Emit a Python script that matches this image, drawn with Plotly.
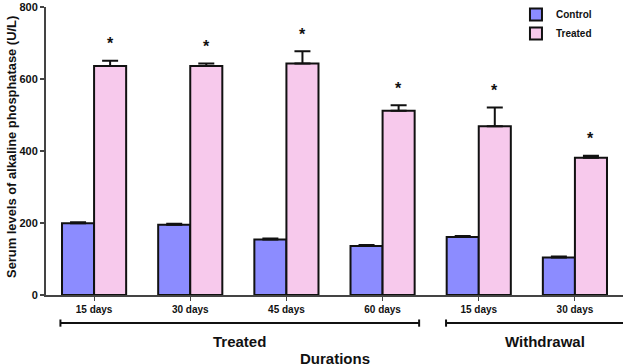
import plotly.graph_objects as go

categories = ["15 days", "30 days", "45 days", "60 days", "15 days ", "30 days "]
tick_labels = ["15 days", "30 days", "45 days", "60 days", "15 days", "30 days"]
control_vals = [199, 195, 154, 136, 161, 104]
control_err = [3, 3, 3, 3, 3, 3]
treated_vals = [636, 636, 643, 512, 469, 381]
treated_err = [15, 7, 34, 15, 52, 6]
group_names = ["Treated", "Withdrawal"]
group_spans = [(-0.35, 3.38), (3.66, 5.59)]
y_title = "Serum levels of alkaline phosphatase (U/L)"

FONT = "Liberation Sans"
fig = go.Figure()
fig.add_trace(go.Bar(
    x=categories, y=control_vals, name="Control",
    marker=dict(color="#8C8CFF", line=dict(color="#111111", width=2)),
    error_y=dict(type="data", array=control_err, arrayminus=[0]*6, symmetric=False,
                 color="#111111", thickness=2, width=8),
))
fig.add_trace(go.Bar(
    x=categories, y=treated_vals, name="Treated",
    marker=dict(color="#F7C9EC", line=dict(color="#111111", width=2)),
    error_y=dict(type="data", array=treated_err, arrayminus=[0]*6, symmetric=False,
                 color="#111111", thickness=2, width=8),
))

annotations = []
for i, (v, e) in enumerate(zip(treated_vals, treated_err)):
    annotations.append(dict(x=i, y=v + e, xref="x", yref="y", text="<b>*</b>",
                            showarrow=False, yanchor="middle", yshift=17, xshift=16,
                            font=dict(size=16, color="#111111", family=FONT)))

shapes = []
label_shift = {"Treated": 0.0, "Withdrawal": 0.06}
for name, (a, b) in zip(group_names, group_spans):
    shapes.append(dict(type="line", xref="x", yref="paper", x0=a, x1=b, y0=-0.097, y1=-0.097,
                       line=dict(color="#111111", width=2)))
    for xx in (a, b):
        shapes.append(dict(type="line", xref="x", yref="paper", x0=xx, x1=xx, y0=-0.085, y1=-0.11,
                           line=dict(color="#111111", width=2)))
    annotations.append(dict(x=(a + b) / 2 + label_shift[name], y=-0.16,
                            xref="x", yref="paper", text=name, showarrow=False,
                            yanchor="middle", font=dict(size=15, color="#111111", family=FONT, weight="bold")))
annotations.append(dict(x=0.5, y=-0.226, xref="paper", yref="paper", text="Durations",
                        showarrow=False, yanchor="middle", xshift=0, yshift=2,
                        font=dict(size=15, color="#111111", family=FONT, weight="bold")))
annotations.append(dict(x=0, y=0.514, xref="paper", yref="paper", text=y_title,
                        showarrow=False, textangle=-90, xanchor="center", yanchor="middle",
                        xshift=-34,
                        font=dict(size=12.9, color="#111111", family=FONT, weight="bold")))

fig.update_layout(
    width=637, height=364,
    margin=dict(l=46, r=14, t=7, b=69, autoexpand=False),
    paper_bgcolor="white", plot_bgcolor="white",
    barmode="group", bargap=0.333, bargroupgap=0,
    font=dict(family=FONT, color="#111111"),
    showlegend=True,
    legend=dict(x=0.81, y=1.0, xref="container", yref="container",
                xanchor="left", yanchor="top", bgcolor="rgba(0,0,0,0)",
                font=dict(size=10, family=FONT, weight="bold", color="#111111"),
                itemwidth=30, tracegroupgap=0),
    annotations=annotations, shapes=shapes,
)
fig.update_xaxes(
    type="category", categoryorder="array", categoryarray=categories,
    tickvals=categories, ticktext=tick_labels, range=[-0.5, 5.5],
    showline=True, linecolor="#444444", linewidth=2,
    ticks="outside", ticklen=4, tickcolor="#444444", tickwidth=1,
    tickfont=dict(size=10, family=FONT, weight="bold", color="#111111"),
    showgrid=False, zeroline=False, automargin=False,
)
fig.update_yaxes(
    range=[0, 800], tickvals=[0, 200, 400, 600, 800],
    showline=True, linecolor="#444444", linewidth=2,
    ticks="outside", ticklen=4, tickcolor="#444444", tickwidth=2,
    tickfont=dict(size=11, family=FONT, weight="bold", color="#111111"),
    showgrid=False, zeroline=False, automargin=False,
)
fig.write_html("out.html")
